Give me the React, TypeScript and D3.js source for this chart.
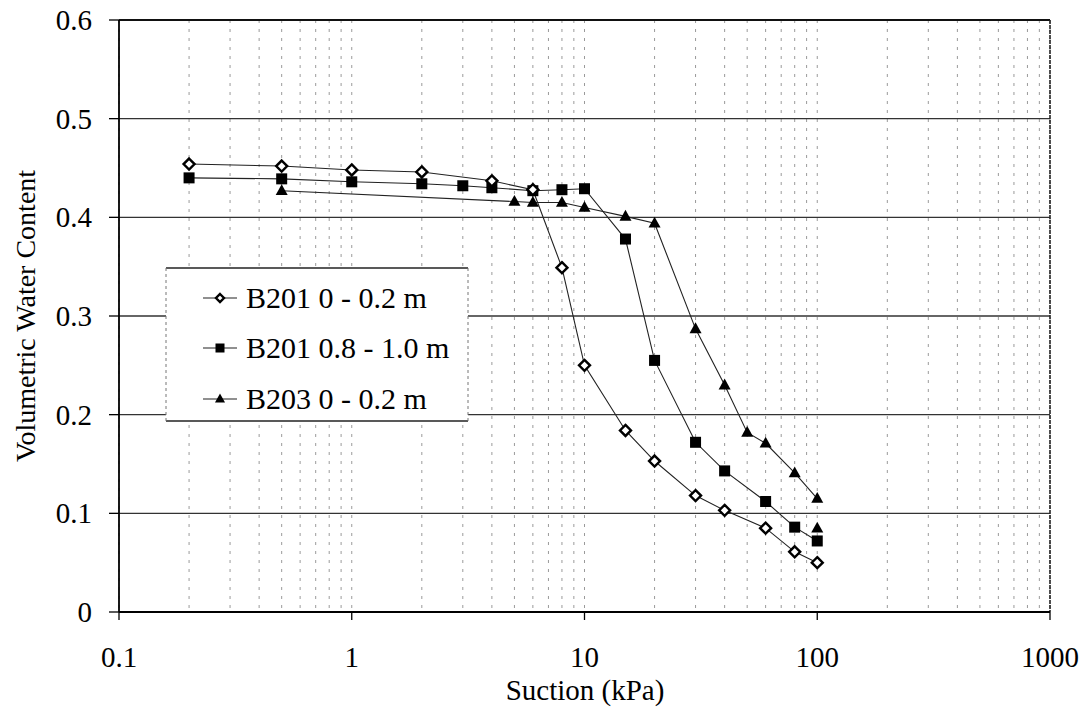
import React from "react";
import * as d3 from "d3";

// Soil-water characteristic data: suction (kPa) vs volumetric water content
const suctionB201Top = [0.2, 0.5, 1, 2, 4, 6, 8, 10, 15, 20, 30, 40, 60, 80, 100];
const thetaB201Top = [0.454, 0.452, 0.448, 0.446, 0.437, 0.428, 0.349, 0.25, 0.184, 0.153, 0.118, 0.103, 0.085, 0.061, 0.05];

const suctionB201Deep = [0.2, 0.5, 1, 2, 3, 4, 6, 8, 10, 15, 20, 30, 40, 60, 80, 100];
const thetaB201Deep = [0.44, 0.439, 0.436, 0.434, 0.432, 0.43, 0.427, 0.428, 0.429, 0.378, 0.255, 0.172, 0.143, 0.112, 0.086, 0.072];

const suctionB203Top = [0.5, 5, 6, 8, 10, 15, 20, 30, 40, 50, 60, 80, 100];
const thetaB203Top = [0.427, 0.416, 0.415, 0.415, 0.41, 0.401, 0.394, 0.287, 0.23, 0.182, 0.171, 0.141, 0.115];

// Unconnected extra reading for B203
const suctionB203Extra = [100];
const thetaB203Extra = [0.085];

const seriesNames = ["B201 0 - 0.2 m", "B201 0.8 - 1.0 m", "B203 0 - 0.2 m"];
const xTickValues = [0.1, 1, 10, 100, 1000];
const xTickLabels = ["0.1", "1", "10", "100", "1000"];
const yTickValues = [0, 0.1, 0.2, 0.3, 0.4, 0.5, 0.6];
const yTickLabels = ["0", "0.1", "0.2", "0.3", "0.4", "0.5", "0.6"];

const W = 1087;
const H = 710;
const left = 119;
const right = 1050;
const top = 20;
const bottom = 612;
const FONT = "'Liberation Serif', 'Times New Roman', serif";

const x = d3.scaleLog().domain([0.1, 1000]).range([left, right]);
const y = d3.scaleLinear().domain([0, 0.6]).range([bottom, top]);

type Pt = [number, number];
const zip = (xs: number[], ys: number[]): Pt[] => xs.map((v, i) => [v, ys[i]]);

const line = d3
  .line<Pt>()
  .x((d) => x(d[0]))
  .y((d) => y(d[1]));

const minorTicks: number[] = [];
for (let dec = 0.1; dec < 1000; dec *= 10) {
  for (let k = 1; k <= 9; k++) minorTicks.push(+(dec * k).toPrecision(3));
}
minorTicks.push(1000);

function Diamond({ cx, cy, r = 5.5 }: { cx: number; cy: number; r?: number }) {
  return (
    <path
      d={`M${cx},${cy - r}L${cx + r},${cy}L${cx},${cy + r}L${cx - r},${cy}Z`}
      fill="#fff"
      stroke="#000"
      strokeWidth={2.4}
    />
  );
}

function Square({ cx, cy, s = 11 }: { cx: number; cy: number; s?: number }) {
  return <rect x={cx - s / 2} y={cy - s / 2} width={s} height={s} fill="#000" />;
}

function Triangle({ cx, cy, s = 12 }: { cx: number; cy: number; s?: number }) {
  const h = s * 0.9;
  return (
    <path
      d={`M${cx},${cy - h * 0.6}L${cx + s / 2},${cy + h * 0.4}L${cx - s / 2},${cy + h * 0.4}Z`}
      fill="#000"
    />
  );
}

export default function App() {
  const s1 = zip(suctionB201Top, thetaB201Top);
  const s2 = zip(suctionB201Deep, thetaB201Deep);
  const s3 = zip(suctionB203Top, thetaB203Top);
  const s3x = zip(suctionB203Extra, thetaB203Extra);

  const legendX = 166;
  const legendY = 268;
  const legendW = 302;
  const legendH = 153;
  const rowY = [298, 348, 399];

  return (
    <div style={{ position: "absolute", left: 0, top: 0 }}>
      <svg width={W} height={H} style={{ display: "block", background: "#fff" }}>
        {/* vertical dotted grid at every log step */}
        {minorTicks.map((t, i) => (
          <line
            key={"vg" + i}
            x1={x(t)}
            x2={x(t)}
            y1={top}
            y2={bottom}
            stroke="#9a9a9a"
            strokeWidth={1}
            strokeDasharray="3,6"
          />
        ))}
        {/* horizontal grid */}
        {yTickValues.slice(1, -1).map((t, i) => (
          <line key={"hg" + i} x1={left} x2={right} y1={y(t)} y2={y(t)} stroke="#333" strokeWidth={1.4} />
        ))}

        {/* frame */}
        <line x1={left} x2={right} y1={top} y2={top} stroke="#111" strokeWidth={1.8} />
        <line x1={right} x2={right} y1={top} y2={bottom} stroke="#222" strokeWidth={1.6} strokeDasharray="4,1" />
        <line x1={left} x2={left} y1={top} y2={bottom} stroke="#000" strokeWidth={1.8} />
        <line x1={left} x2={right} y1={bottom} y2={bottom} stroke="#000" strokeWidth={1.8} />

        {/* y ticks & labels */}
        {yTickValues.map((t, i) => (
          <g key={"yt" + i}>
            <line x1={left - 10} x2={left} y1={y(t)} y2={y(t)} stroke="#000" strokeWidth={1.3} />
            <text
              x={92}
              y={y(t) + 10}
              textAnchor="end"
              fontFamily={FONT}
              fontSize={29}
              fill="#000"
            >
              {yTickLabels[i]}
            </text>
          </g>
        ))}

        {/* x ticks & labels */}
        {xTickValues.map((t, i) => (
          <g key={"xt" + i}>
            <line x1={x(t)} x2={x(t)} y1={bottom} y2={bottom + 8} stroke="#000" strokeWidth={1.3} />
            <text x={x(t)} y={667} textAnchor="middle" fontFamily={FONT} fontSize={29} fill="#000">
              {xTickLabels[i]}
            </text>
          </g>
        ))}

        {/* axis titles */}
        <text x={585} y={700} textAnchor="middle" fontFamily={FONT} fontSize={29} fill="#000">
          Suction (kPa)
        </text>
        <text
          transform={`translate(35,${(top + bottom) / 2}) rotate(-90)`}
          textAnchor="middle"
          fontFamily={FONT}
          fontSize={28}
          fill="#000"
        >
          Volumetric Water Content
        </text>

        {/* series lines */}
        <path d={line(s1) || ""} fill="none" stroke="#222" strokeWidth={1.1} />
        <path d={line(s2) || ""} fill="none" stroke="#222" strokeWidth={1.1} />
        <path d={line(s3) || ""} fill="none" stroke="#222" strokeWidth={1.1} />

        {/* markers */}
        {s3.map((d, i) => (
          <Triangle key={"t" + i} cx={x(d[0])} cy={y(d[1])} />
        ))}
        {s3x.map((d, i) => (
          <Triangle key={"tx" + i} cx={x(d[0])} cy={y(d[1])} />
        ))}
        {s2.map((d, i) => (
          <Square key={"s" + i} cx={x(d[0])} cy={y(d[1])} />
        ))}
        {s1.map((d, i) => (
          <Diamond key={"d" + i} cx={x(d[0])} cy={y(d[1])} />
        ))}

        {/* legend */}
        <rect x={legendX} y={legendY} width={legendW} height={legendH} fill="#fff" stroke="none" />
        <line x1={legendX} x2={legendX + legendW} y1={legendY} y2={legendY} stroke="#222" strokeWidth={1.5} />
        <line x1={legendX} x2={legendX + legendW} y1={legendY + legendH} y2={legendY + legendH} stroke="#222" strokeWidth={1.5} />
        <line x1={legendX} x2={legendX} y1={legendY} y2={legendY + legendH} stroke="#777" strokeWidth={1} strokeDasharray="3,3" />
        <line x1={legendX + legendW} x2={legendX + legendW} y1={legendY} y2={legendY + legendH} stroke="#777" strokeWidth={1} strokeDasharray="3,3" />
        {seriesNames.map((name, i) => (
          <g key={"lg" + i}>
            <line x1={203} x2={237} y1={rowY[i]} y2={rowY[i]} stroke="#222" strokeWidth={1.1} />
            {i === 0 && <Diamond cx={220} cy={rowY[i]} r={4} />}
            {i === 1 && <Square cx={220} cy={rowY[i]} s={9} />}
            {i === 2 && <Triangle cx={220} cy={rowY[i]} s={10} />}
            <text x={246} y={rowY[i] + 10} fontFamily={FONT} fontSize={30} fill="#000">
              {name}
            </text>
          </g>
        ))}
      </svg>
    </div>
  );
}
